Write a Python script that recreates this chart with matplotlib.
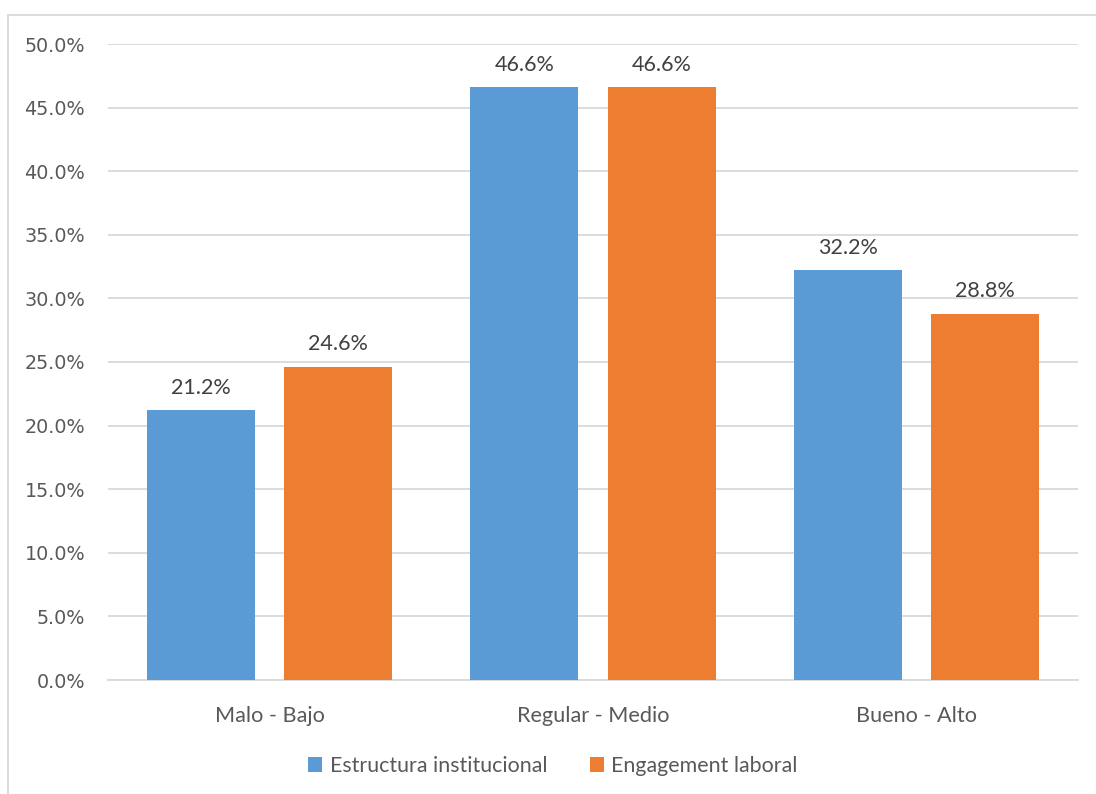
import matplotlib.pyplot as plt
import numpy as np
from matplotlib.patches import Rectangle

categorias = ['Malo - Bajo', 'Regular - Medio', 'Bueno - Alto']
estructura = [21.2, 46.6, 32.2]
engagement = [24.6, 46.6, 28.8]
series = ['Estructura institucional', 'Engagement laboral']
colores = ['#5B9BD5', '#ED7D31']

fig = plt.figure(figsize=(10.96, 7.94), dpi=100)
ax = fig.add_axes([108/1096, 1-680/794, 970/1096, 636/794])

# marco gris claro alrededor del grafico
fig.patches.append(Rectangle((8/1096, -0.01), 1.02, 1-15/794+0.01, transform=fig.transFigure,
                             fill=False, edgecolor='#D9D9D9', linewidth=1.3))

x = np.arange(len(categorias))
w = 0.334
off = 0.212
b1 = ax.bar(x - off, estructura, w, color=colores[0], label=series[0], zorder=3)
b2 = ax.bar(x + off, engagement, w, color=colores[1], label=series[1], zorder=3)

for bars, vals in ((b1, estructura), (b2, engagement)):
    for b, v in zip(bars, vals):
        ax.text(b.get_x() + b.get_width()/2, v + 1.0, f'{v:.1f}%', ha='center', va='bottom',
                fontsize=15.5, color='#404040', family='Lato')

ax.set_xlim(-0.5, 2.5)
ax.set_ylim(0, 50)
ax.set_yticks(np.arange(0, 50.1, 5))
ax.set_yticklabels([f'{t:.1f}%' for t in np.arange(0, 50.1, 5)])
ax.yaxis.grid(True, color='#D9D9D9', linewidth=1.3, zorder=0)
ax.set_xticks(x)
ax.set_xticklabels(categorias, family='Lato', fontsize=15.6)
ax.tick_params(axis='y', length=0, pad=16.5, labelsize=13.8, labelcolor='#595959')
ax.tick_params(axis='x', length=0, pad=19, labelcolor='#595959')
for s in ['top', 'right', 'left']:
    ax.spines[s].set_visible(False)
ax.spines['bottom'].set_color('#D9D9D9')
ax.spines['bottom'].set_linewidth(1.3)

leg = fig.legend(loc='center', bbox_to_anchor=(553/1096, 1-766/794), ncol=2, frameon=False,
                 prop={'family': 'Lato', 'size': 15.4}, handlelength=0.65, handleheight=0.65,
                 handletextpad=0.35, columnspacing=2.0)
for t in leg.get_texts():
    t.set_color('#595959')

plt.savefig('out.png', dpi=100)
